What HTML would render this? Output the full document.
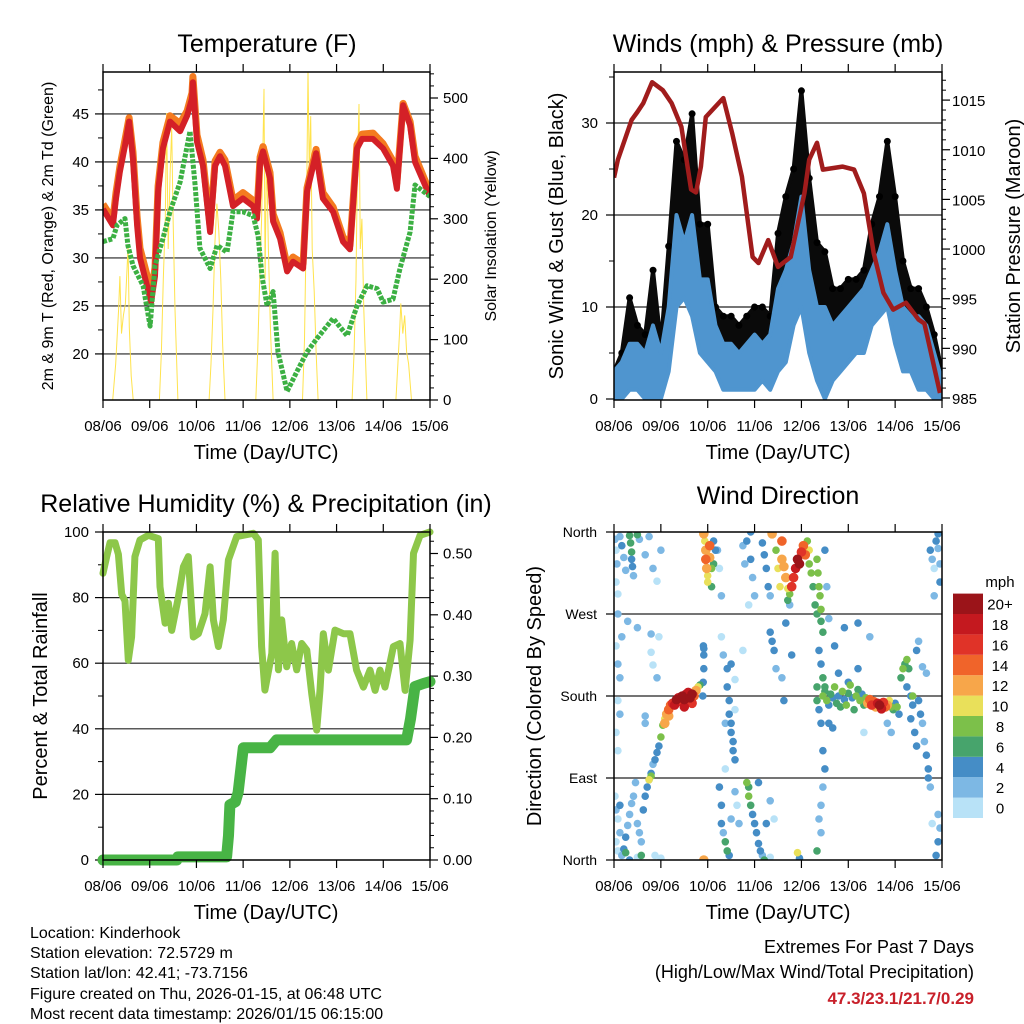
<!DOCTYPE html>
<html><head><meta charset="utf-8"><style>
html,body{margin:0;padding:0;background:#fff;}
svg{display:block;font-family:"Liberation Sans",Arial,sans-serif;}
</style></head><body>
<svg id="fig" width="1024" height="1024" viewBox="0 0 1024 1024" xmlns="http://www.w3.org/2000/svg">
<defs>
<clipPath id="c1"><rect x="103" y="72" width="327" height="328"/></clipPath>
<clipPath id="c2"><rect x="614" y="72" width="328" height="328"/></clipPath>
<clipPath id="c3"><rect x="103" y="532" width="327" height="328"/></clipPath>
<clipPath id="c4"><rect x="614" y="532" width="328" height="328"/></clipPath>
</defs>
<g id="layer"></g>
<text x="267" y="52" font-size="25" text-anchor="middle">Temperature (F)</text>
<text x="778" y="52" font-size="25" text-anchor="middle">Winds (mph) &amp; Pressure (mb)</text>
<text x="266" y="512" font-size="25" text-anchor="middle">Relative Humidity (%) &amp; Precipitation (in)</text>
<text x="778" y="504" font-size="25" text-anchor="middle">Wind Direction</text>
<text transform="translate(53,236) rotate(-90)" font-size="16" text-anchor="middle">2m &amp; 9m T (Red, Orange) &amp; 2m Td (Green)</text>
<text transform="translate(496,236) rotate(-90)" font-size="16" text-anchor="middle">Solar Insolation (Yellow)</text>
<text transform="translate(563,236) rotate(-90)" font-size="20" text-anchor="middle">Sonic Wind &amp; Gust (Blue, Black)</text>
<text transform="translate(1020,236) rotate(-90)" font-size="20" text-anchor="middle">Station Pressure (Maroon)</text>
<text transform="translate(47,696) rotate(-90)" font-size="20" text-anchor="middle">Percent &amp; Total Rainfall</text>
<text transform="translate(541,696) rotate(-90)" font-size="20" text-anchor="middle">Direction (Colored By Speed)</text>
<text x="266" y="459" font-size="20" text-anchor="middle">Time (Day/UTC)</text>
<text x="778" y="459" font-size="20" text-anchor="middle">Time (Day/UTC)</text>
<text x="266" y="919" font-size="20" text-anchor="middle">Time (Day/UTC)</text>
<text x="778" y="919" font-size="20" text-anchor="middle">Time (Day/UTC)</text>
<g font-size="16">
<text x="30" y="938">Location: Kinderhook</text>
<text x="30" y="958">Station elevation: 72.5729 m</text>
<text x="30" y="978">Station lat/lon: 42.41; -73.7156</text>
<text x="30" y="999">Figure created on Thu, 2026-01-15, at 06:48 UTC</text>
<text x="30" y="1019">Most recent data timestamp: 2026/01/15 06:15:00</text>
</g>
<text x="974" y="953" font-size="18" text-anchor="end">Extremes For Past 7 Days</text>
<text x="974" y="978" font-size="18" text-anchor="end">(High/Low/Max Wind/Total Precipitation)</text>
<text x="974" y="1004" font-size="17" font-weight="bold" fill="#c8202a" text-anchor="end">47.3/23.1/21.7/0.29</text>
<text x="1000" y="587" font-size="15" text-anchor="middle">mph</text>
</svg>
<script>
// ---------- data ----------
const dayLabels = ["08/06","09/06","10/06","11/06","12/06","13/06","14/06","15/06"];
const tempTicks = [20,25,30,35,40,45];
const solarTicks = [0,100,200,300,400,500];
const windTicks = [0,10,20,30];
const pressTicks = [985,990,995,1000,1005,1010,1015];
const rhTicks = [0,20,40,60,80,100];
const precipTicks = [0,0.1,0.2,0.3,0.4,0.5];
const dirTickLabels = ["North","East","South","West","North"];
const dirTickValues = [0,90,180,270,360];
const speedBins = ["0","2","4","6","8","10","12","14","16","18","20+"];
const speedColors = ["#b8e2f7","#7db8e4","#458dc6","#47a46c","#7cc04a","#e9e05a","#f7a64a","#f0642a","#e03328","#c4191f","#9b1419"];

const tempH = [0,5.1,6.7,8.7,11.3,13.4,15.4,17.5,19,22.6,24.7,26.7,28.3,30.8,34.4,39.6,43.2,45.7,46.2,48.3,51.4,55,57.6,60.1,62.7,66.8,71.9,77.1,79.1,80.7,82.2,85.8,87.4,91,94.6,97.6,102.8,104.8,109.5,113,118.2,123.3,126.9,130.5,133.1,138.7,143.9,149,151,154.2,157.8,160.3,168];
const temp2m = [35.1,33.4,36.2,39,41.7,44.2,40.3,33.4,30,27.1,25.4,28.1,36.9,41.4,44.2,43.2,44.8,46.6,48.3,42.1,39.6,32.7,39.6,40.6,39.6,35.4,36.2,35.4,34.1,40,41.1,38.3,33.8,32,28.6,29.6,28.9,36.9,40.9,36.2,34.8,31.7,30.9,41.4,42.4,42.4,41.4,39.6,37.2,45.9,43.8,40,36.4];
const temp9m = [35.6,34,36.8,39.5,42.3,44.6,41,34.3,31,28.2,26.2,29,37.5,42,44.8,44,45.3,47.2,48.9,42.8,40.2,33.3,40.1,41,40.2,36,36.8,36,34.8,40.5,41.6,38.9,34.6,32.6,29.2,30.1,29.4,37.3,41.3,36.8,35.3,32.2,31.3,41.8,42.9,43,41.9,40.1,37.8,46.1,44.2,40.6,36.8];
const dewH = [0,5.1,7.2,11.3,12.8,15.4,20.6,24.2,26.7,30.8,34.4,39.6,44.7,47.3,49.8,55,58.6,63.7,66.8,71.9,77.1,79.7,81.7,84.3,87.4,89.9,94.6,99.7,104.8,109.9,118.2,125.4,130.5,135.7,140.8,143.9,149,152.6,157.8,160.3,168];
const dewV = [31.7,32,33.4,34.1,31.3,29.2,27.1,22.9,29.2,32,34.8,37.9,43.2,37.6,31,28.9,31.3,30.6,34.8,34.8,34.4,32.3,28.1,25,26.5,20.2,16.1,18.2,20.2,21.6,23.7,21.9,25,27.1,26.8,25.4,25.7,28.9,32.7,37.6,36.4];
const solarH = [5,6.5,8,8.7,9.5,10.5,11.5,12.9,13.5,14.5,15.5, 29,30,31,32,32.7,33.5,34.5,35.3,36,37,38.5, 54.5,55.5,56.5,57.5,58.5,59.5,60.5,61.5,62.7, 78.5,79.5,80.5,81.5,82.7,83.3,84,85,86,87.4, 102.5,103.5,104.5,105.3,106,106.7,107.5,108.5,109.5,110.5, 128,129,130,130.7,131.5,132.2,133,134,135.6, 150.5,151.5,152.5,153,154,155,156,157,158.5];
const solarV = [0,60,150,205,110,140,160,255,120,40,0, 0,80,200,300,475,250,380,450,300,150,0, 0,60,150,260,325,280,200,90,0, 0,80,200,300,515,200,420,250,120,0, 0,100,300,545,380,470,250,180,80,0, 0,80,200,380,490,250,300,150,0, 0,60,120,160,110,140,80,60,0];

const windH = [0,4,8,12,16,20,24,28,32,36,40,44,48,52,56,60,64,68,72,76,80,84,88,92,96,100,104,108,112,116,120,124,128,132,136,140,144,148,152,156,160,164,168];
const windLow = [0,0,1,1,0,0,0,3,10,11,9,5,4,3,1,1,1,1,1,2,1,3,4,8,10,5,2,0,2,3,4,5,5,8,9,10,6,3,3,1,1,0,0];
const windHigh = [3,4,6,6,5,8,5,10,20,17,20,13,13,8,6,6,5,6,7,6,7,12,14,17,22,14,10,10,8,9,10,11,12,14,16,19,14,10,9,9,8,5,2];
const gustV = [3,5,11,8,7,14,6,16.6,28,26,31,19,19,10,9,9,8,9,10,10,9,18,22,25,33.5,24,17,16,12,12,13,13,14,19,22,28,22,15,12,12,10,7,3];
const pressH = [0,2,9,12,15,19.5,25,29.5,34.5,39.5,42,44.5,47,56,60.5,65.5,71,74,79,84,90.5,97.5,100,104,107,117,123,128,133,138,143,149.5,156,159,167];
const pressV = [1007.2,1009,1013,1013.8,1014.7,1016.8,1016,1014.7,1012.3,1006,1005.7,1008.3,1013.3,1015.2,1011.7,1007.3,999.2,998.6,1000.9,998.2,999.2,1005.6,1009,1010.7,1008,1008.3,1008,1005.6,999.6,995.6,993.9,994.6,992.9,992.5,985.5];

const rhH = [0,1.9,3.6,6.2,7.9,9.6,11.3,13,14.7,16.4,19,23.3,28.4,29.3,31.9,33.6,35.3,38.7,41.3,43.8,46.4,49,52.4,55,56.7,59.3,61.8,64.4,68.7,77.2,79.8,81.5,83.2,86.7,88.4,90.1,91.8,94.4,96.9,99.5,102.1,104.7,107.2,109.8,111.5,113.2,115.8,119.2,123.5,126.9,130.3,133.8,137.2,139.8,142.3,144.9,149.2,152.6,155.2,157.8,159.5,162.9,168];
const rhV = [87.4,92.5,96.7,96.7,93.2,81,79,60.9,68,92.5,97.6,99,98,83.3,72.2,78.3,70,80,89.4,92.5,68,69,75.1,89.4,73.2,65.1,73.2,91.5,98.6,99.6,97.6,65.1,51.8,63,93.5,58,73.2,58.9,66,58,66,64,50.8,39.6,51.8,69,57.9,70.1,69,69,57.9,52.7,57.9,51.7,57.9,52.7,65.1,66,51.7,67,93.5,99,100];
const precipH = [0,37.9,38.5,63.5,64.5,65.2,68,69.4,72.1,85.8,89.2,156,158,160.3,164.6,168];
const precipV = [0,0,0.005,0.005,0.04,0.09,0.095,0.11,0.183,0.183,0.196,0.196,0.23,0.283,0.288,0.291];

// wind direction observations: [hour, direction deg, speed mph]
const dirObs = [
[0.5,352,1],[1,340,0],[1.5,325,1],[1,305,0],[2,292,0],[3,355,2],[4,345,3],[5,332,1],[6,318,2],[8,356,6],[8.5,348,5],[9,338,6],[9,330,4],[9.5,322,4],[10,312,2],[12,357,6],[13,352,2],[16,335,1],[18,355,1],[20,320,1],[22,306,0],[24,340,1],[2,270,1],[7,262,2],[12,255,1],[19,248,1],
[1,235,0],[2,215,1],[3,200,2],[4,245,1],[2,175,0],[3,160,1],[1,140,0],[2,120,0],[19,228,0],[20,214,0],[22,200,1],[23,245,0],[16,158,2],[16,150,2],
[0.5,70,0],[1,55,1],[2,45,0],[3,30,1],[1,20,0],[2,10,0],[4,5,2],[5,12,4],[6,25,3],[7,38,2],[8,50,1],[9,62,2],[10,70,1],[11,85,2],[12,40,1],[13,30,2],[14,20,1],[14,5,6],[15,55,4],[16,70,3],[17,80,4],[18,88,2],[19,95,3],[20,105,1],[8,0,4],[12,3,0],[21,5,0],[24,2,0],[3,60,4],[6,8,6],
[18,88,10],[19,92,8],[21,110,4],[22,118,3],[23,125,4],[24,135,7],[25,148,8],[26,155,10],[27,160,12],[28,165,13],[29,170,14],[30,172,16],[31,170,18],[32,176,20],[33,178,18],[34,174,16],[35,180,20],[36,176,19],[37,182,18],[38,184,17],[39,178,20],[40,172,16],[41,180,14],[42,186,12],[43,190,9],[44,192,6],[26,150,11],[28,158,12],[36,168,18],[40,182,20],
[45.5,180,4],[45.7,195,4],[46,210,4],[46,225,4],[46,232,4],[45.8,235,4],
[46,358,12],[46.5,350,10],[47,340,12],[47,330,14],[47.5,320,11],[48,312,10],[48,305,10],[49,345,13],[49,332,12],[50,320,8],[50,300,6],[51,350,4],[52,340,3],[51,325,6],[46,0,12],
[53,340,2],[54,320,0],[55,290,1],[55,245,0],[56,225,1],[57,150,1],[58,190,3],[59,175,4],[59,160,4],[60,150,4],[60,140,4],[61,130,4],[61,120,3],[62,110,4],[54,80,4],[55,60,4],[55,40,3],[56,30,2],[57,20,5],[58,10,6],[59,5,3],[60,45,2],[57,100,0],[62,75,2],[63,60,0],[64,40,1],[62,165,0],[58,210,3],[60,215,4],[62,198,0],[66,230,0],[66,345,2],[68,350,3],[70,360,4],[70,330,3],[71,310,2],[72,290,1],[69,280,0],[67,325,1],
[68,85,8],[69,80,6],[69,70,7],[70,60,6],[71,50,4],[72,40,4],[73,30,4],[74,18,4],[75,10,3],[76,5,2],[77,0,6],[80,3,0],[74,85,4],[78,40,4],[80,65,1],[82,45,0],
[76,348,4],[77,335,4],[78,320,4],[79,300,3],[80,290,2],[80,250,4],[81,240,3],[82,230,4],[83,340,8],[84,320,9],[85,300,10],[86,350,14],[86,330,12],[87,322,12],[88,310,12],[89,298,10],[90,292,8],[91,300,16],[92,310,16],[93,320,18],[94,330,20],[95,325,20],[96,338,16],[97,345,14],[98,335,13],[99,350,8],[100,340,10],[100,325,7],[101,315,8],[102,300,6],[103,280,6],[104,270,5],[89,285,6],[90,280,2],[88,260,4],[91,225,4],[83,210,1],[86,200,1],[87,175,4],[94,8,10],[95,2,4],[81,358,11],
[104,330,8],[104.5,315,7],[105,300,8],[105.5,290,7],[106,275,7],[106,262,6],[107,250,6],[105,230,4],[106,215,4],[107,200,6],[108,190,6],[108,340,4],[109,300,2],[110,265,2],[107,120,4],[108,100,4],[107,80,2],[106,60,2],[105,45,2],[104,10,6],[106,30,2],
[104,190,6],[104,175,6],[105,165,4],[106,150,4],[107,180,8],[108,185,6],[109,175,8],[110,170,4],[111,182,6],[112,178,4],[113,190,8],[114,172,6],[115,180,4],[116,168,6],[117,185,8],[118,176,4],[119,170,8],[120,183,6],[121,192,8],[122,178,4],[123,165,6],[124,180,8],[125,187,6],[126,175,8],[127,182,4],[128,170,6],[129,178,8],[130,172,12],[131,176,14],[132,170,16],[133,174,14],[134,168,12],[135,172,18],[136,170,20],[137,166,18],[138,173,16],[139,168,14],[140,170,12],[141,175,10],[142,168,8],[143,165,6],[144,172,4],[145,168,8],[146,160,4],[110,150,4],[112,145,4],[115,205,4],[120,195,4],[125,210,4],[113,235,4],[118,255,4],[125,260,4],[128,140,0],[131,245,2],[140,150,1],[142,140,2],
[147,200,6],[148,210,8],[149,215,6],[150,220,8],[151,210,6],[150,190,4],[152,180,4],[153,170,4],[152,155,4],[154,140,4],[155,125,4],[153,180,8],[156,175,4],[157,160,4],[158,150,2],[159,130,2],[160,115,4],[161,100,4],[161,90,4],[162,80,2],[160,205,1],[158,212,1],[156,240,1],[155,230,4],
[162,340,4],[163,330,2],[164,320,0],[165,350,4],[166,358,4],[166,342,2],[167,325,2],[167,305,4],[164,290,1],[165,5,4],[166,20,4],[167,35,2],[166,50,1],[163,40,0]
];

// ---------- scales ----------
const xA = h => 103 + h*327/168;
const xB = h => 614 + h*328/168;
const yT = t => 400 - (t-15.2)*9.6;
const ySol = v => 400 - v*0.604;
const yW = w => 399 - w*9.2;
const yP = p => 398 - (p-985)*9.93;
const yRH = r => 860 - r*3.28;
const yPr = p => 860 - p*613;
const yD = d => 860 - d*328/360;

const NS = 'http://www.w3.org/2000/svg';
const layer = document.getElementById('layer');
function mk(tag, attrs, name, parent){
  const el = document.createElementNS(NS, tag);
  for (const k in attrs) el.setAttribute(k, attrs[k]);
  
  
  (parent||layer).appendChild(el);
  return el;
}
function pts(xs, ys, fx, fy){ return xs.map((h,i)=>fx(h).toFixed(1)+','+fy(ys[i]).toFixed(1)).join(' '); }
function txt(x,y,s,anchor,size,name){
  const t = mk('text',{x:x,y:y,'font-size':size||15,'text-anchor':anchor||'middle'},name);
  t.textContent = s; return t;
}

function frame(x0,y0,x1,y1,fx,pfx){
  dayLabels.forEach((lab,i)=>{
    const x = fx(i*24);
    mk('line',{x1:x,y1:y1,x2:x,y2:y1+8,stroke:'#000','stroke-width':1.2},pfx+'x-tick');
    mk('line',{x1:x,y1:y0,x2:x,y2:y0-8,stroke:'#000','stroke-width':1.2},pfx+'x-tick-top');
    txt(x, y1+31, lab, 'middle', 15, pfx+'x-tick-label');
  });
}
function hgrid(x0,x1,y,name){ mk('line',{x1:x0,y1:y,x2:x1,y2:y,stroke:'#222','stroke-width':1.2},name); }
function box(x0,y0,x1,y1,name){ mk('rect',{x:x0,y:y0,width:x1-x0,height:y1-y0,fill:'none',stroke:'#000','stroke-width':1.5},name); }

// ===== Panel 1: Temperature =====
tempTicks.forEach(t=>{ hgrid(103,430,yT(t),'temp-gridline'); });
tempTicks.forEach(t=>{
  mk('line',{x1:103,y1:yT(t),x2:95,y2:yT(t),stroke:'#000','stroke-width':1.2},'temp-y-tick');
  txt(89,yT(t)+5,String(t),'end',15,'temp-y-tick-label');
  mk('line',{x1:103,y1:yT(t+2.5),x2:98,y2:yT(t+2.5),stroke:'#000','stroke-width':1},'temp-y-minor-tick');
});
solarTicks.forEach(v=>{
  mk('line',{x1:430,y1:ySol(v),x2:438,y2:ySol(v),stroke:'#000','stroke-width':1.2},'solar-y-tick');
  txt(443,ySol(v)+5,String(v),'start',15,'solar-y-tick-label');
  for(let m=20;m<100;m+=20){ if(v+m<545) mk('line',{x1:430,y1:ySol(v+m),x2:434,y2:ySol(v+m),stroke:'#000','stroke-width':1},'solar-y-minor-tick'); }
});
const g1 = mk('g',{'clip-path':'url(#c1)'},'temperature-plot-area');
mk('polyline',{points:pts(solarH,solarV,xA,ySol),fill:'none',stroke:'#ffe34d','stroke-width':1},'solar-line',g1);
mk('polyline',{points:pts(tempH,temp9m,xA,yT),fill:'none',stroke:'#f47b20','stroke-width':7,'stroke-linejoin':'round'},'temp-9m-line',g1);
mk('polyline',{points:pts(tempH,temp2m,xA,yT),fill:'none',stroke:'#d42027','stroke-width':6,'stroke-linejoin':'round'},'temp-2m-line',g1);
mk('polyline',{points:pts(dewH,dewV,xA,yT),fill:'none',stroke:'#3cb043','stroke-width':5,'stroke-dasharray':'4 1.5','stroke-linejoin':'round'},'dewpoint-line',g1);
frame(103,72,430,400,xA,'temp-');
box(103,72,430,400,'temperature-plot-frame');

// ===== Panel 2: Winds & Pressure =====
windTicks.forEach(w=>{
  if(w>0) hgrid(614,942,yW(w),'wind-gridline');
  mk('line',{x1:614,y1:yW(w),x2:606,y2:yW(w),stroke:'#000','stroke-width':1.2},'wind-y-tick');
  txt(598,yW(w)+5,String(w),'end',15,'wind-y-tick-label');
  mk('line',{x1:614,y1:yW(w+5),x2:609,y2:yW(w+5),stroke:'#000','stroke-width':1},'wind-y-minor-tick');
});
pressTicks.forEach(p=>{
  mk('line',{x1:942,y1:yP(p),x2:950,y2:yP(p),stroke:'#000','stroke-width':1.2},'pressure-y-tick');
  txt(952,yP(p)+6,String(p),'start',15,'pressure-y-tick-label');
  for(let m=1;m<5;m++){ if(p+m<1018) mk('line',{x1:942,y1:yP(p+m),x2:946,y2:yP(p+m),stroke:'#000','stroke-width':1},'pressure-y-minor-tick'); }
});
const g2 = mk('g',{'clip-path':'url(#c2)'},'wind-plot-area');
{
  const up = windH.map((h,i)=>xB(h).toFixed(1)+','+yW(gustV[i]).toFixed(1));
  const dn = windH.map((h,i)=>xB(h).toFixed(1)+','+yW(windHigh[i]).toFixed(1)).reverse();
  mk('polygon',{points:up.concat(dn).join(' '),fill:'#0a0a0a',stroke:'#0a0a0a','stroke-width':4,'stroke-linejoin':'round'},'gust-band',g2);
  windH.forEach((h,i)=>{
    mk('circle',{cx:xB(h),cy:yW(gustV[i]),r:3.5,fill:'#000'},'gust-dot',g2);
  });
  const up2 = windH.map((h,i)=>xB(h).toFixed(1)+','+yW(windHigh[i]).toFixed(1));
  const dn2 = windH.map((h,i)=>xB(h).toFixed(1)+','+yW(windLow[i]).toFixed(1)).reverse();
  mk('polygon',{points:up2.concat(dn2).join(' '),fill:'#4f95cf',stroke:'#4f95cf','stroke-width':4,'stroke-linejoin':'round'},'wind-band',g2);
}
mk('polyline',{points:pts(pressH,pressV,xB,yP),fill:'none',stroke:'#a01c1c','stroke-width':4.5,'stroke-linejoin':'round'},'pressure-line',g2);
frame(614,72,942,400,xB,'wind-');
box(614,72,942,400,'wind-plot-frame');

// ===== Panel 3: RH & Precip =====
rhTicks.forEach(r=>{
  if(r>0 && r<100) hgrid(103,430,yRH(r),'rh-gridline');
  mk('line',{x1:103,y1:yRH(r),x2:95,y2:yRH(r),stroke:'#000','stroke-width':1.2},'rh-y-tick');
  txt(89,yRH(r)+5,String(r),'end',15,'rh-y-tick-label');
  if(r<100) mk('line',{x1:103,y1:yRH(r+10),x2:98,y2:yRH(r+10),stroke:'#000','stroke-width':1},'rh-y-minor-tick');
});
precipTicks.forEach(p=>{
  mk('line',{x1:430,y1:yPr(p),x2:438,y2:yPr(p),stroke:'#000','stroke-width':1.2},'precip-y-tick');
  txt(443,yPr(p)+5,p.toFixed(2),'start',15,'precip-y-tick-label');
  for(let m=1;m<5;m++){ const q=p+m*0.02; if(q<0.53) mk('line',{x1:430,y1:yPr(q),x2:434,y2:yPr(q),stroke:'#000','stroke-width':1},'precip-y-minor-tick'); }
});
const g3 = mk('g',{},'humidity-plot-area');
mk('polyline',{points:pts(rhH,rhV,xA,yRH),fill:'none',stroke:'#8dc74a','stroke-width':7,'stroke-linejoin':'round','stroke-linecap':'round'},'rh-line',g3);
mk('polyline',{points:pts(precipH,precipV,xA,yPr),fill:'none',stroke:'#48b445','stroke-width':11,'stroke-linejoin':'round','stroke-linecap':'round'},'precip-line',g3);
frame(103,532,430,860,xA,'rh-');
box(103,532,430,860,'humidity-plot-frame');

// ===== Panel 4: Wind direction =====
dirTickValues.forEach((d,i)=>{
  if(d>0 && d<360) hgrid(614,942,yD(d),'direction-gridline');
  mk('line',{x1:614,y1:yD(d),x2:606,y2:yD(d),stroke:'#000','stroke-width':1.2},'direction-y-tick');
  txt(597,yD(d)+5,dirTickLabels[i],'end',14,'direction-y-tick-label');
});
const g4 = mk('g',{'clip-path':'url(#c4)'},'direction-plot-area');
dirObs.slice().sort((a,b)=>a[2]-b[2]).forEach(o=>{
  const bin = Math.min(10, Math.round(o[2]/2));
  mk('circle',{cx:xB(o[0]).toFixed(1),cy:yD(o[1]).toFixed(1),r:bin>=6?4.8:3.8,fill:speedColors[bin]},'direction-point',g4);
});
frame(614,532,942,860,xB,'direction-');
box(614,532,942,860,'direction-plot-frame');

speedBins.forEach((lab,i)=>{
  const y = 818 - (i+1)*20.4;
  mk('rect',{x:953,y:y,width:30,height:20.4,fill:speedColors[i]},'colorbar-swatch');
  txt(1000,y+16,lab,'middle',15,'colorbar-label');
});
</script>
</body></html>
